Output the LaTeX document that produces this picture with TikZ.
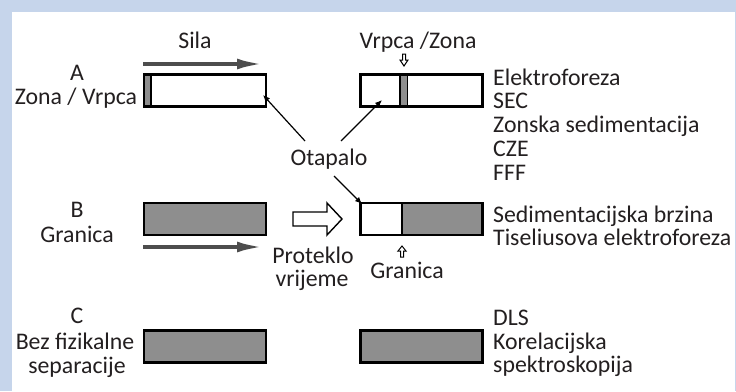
\documentclass[tikz,border=0pt]{standalone}
\usepackage{fontspec}
\setmainfont{Carlito}
\usetikzlibrary{arrows.meta}
\definecolor{frameblue}{HTML}{C6D5EB}
\definecolor{bandgray}{HTML}{8E8E8E}
\definecolor{arrgray}{HTML}{4D4D4D}
\definecolor{txt}{HTML}{231F20}
\begin{document}
\begin{tikzpicture}[x=1pt,y=-1pt,
  tube/.style={draw=black, line width=2.3pt, minimum width=122pt, minimum height=32pt, inner sep=0pt},
  lbl/.style={font=\fontsize{23.8}{23.75}\selectfont, text=txt, inner sep=0pt, anchor=base},
  lst/.style={lbl, anchor=base west},
  force/.style={arrgray, line width=4.5pt, -{Latex[length=30pt,width=10.5pt]}},
  pointer/.style={black, line width=1.2pt, -{Latex[length=7pt,width=6pt]}},
  hollow/.style={draw=black, line width=1.4pt, fill=white, line join=miter},
  smallhollow/.style={draw=black, line width=1pt, fill=white}]
\fill[frameblue] (0,0) rectangle (736,391);
\fill[white] (12,12) rectangle (735,391);
\useasboundingbox (0,0) rectangle (736,391);

% ---------- Row A ----------
\node[lbl] (silaT) at (195,48) {Sila};
\coordinate (silaS) at (143,64);
\coordinate (silaE) at (267,64);
\draw[force] (silaS) -- (silaE);

\node[lbl] (aT) at (77,80) {A};
\node[lbl] (aZ) at (76,104) {Zona / Vrpca};

\node[tube, fill=white] (boxAL) at (205,90.5) {};
\fill[bandgray] (145,75) rectangle (150,106);
\draw[black, line width=1.6pt] (151,74.5) -- (151,106.5);
\node[tube] at (205,90.5) {};

\node[lbl] (vzT) at (418,48) {Vrpca /Zona};
\node[tube, fill=white] (boxAR) at (421.5,90.5) {};
\fill[bandgray] (400.5,75) rectangle (407,106);
\draw[black, line width=1.5pt] (400,74.5) -- (400,106.5) (407.5,74.5) -- (407.5,106.5);
\node[tube] at (421.5,90.5) {};
\draw[smallhollow] (402.5,54) -- (405.5,54) -- (405.5,60) -- (408,60) -- (404,66) -- (400,60) -- (402.5,60) -- cycle;

\node[lst] (l1) at (493,85) {Elektroforeza};
\node[lst] (l2) at (493,108.75) {SEC};
\node[lst] (l3) at (493,132.5) {Zonska sedimentacija};
\node[lst] (l4) at (493,156.25) {CZE};
\node[lst] (l5) at (493,180) {FFF};

% ---------- Otapalo ----------
\node[lbl] (ota) at (329,165) {Otapalo};
\coordinate (o1) at (305,141);
\coordinate (o2) at (341,141);
\coordinate (o3) at (334,176);
\coordinate (t1) at (263,95);
\coordinate (t2) at (382,100);
\coordinate (t3) at (362,204);

% ---------- Row B ----------
\node[lbl] (bT) at (77,217) {B};
\node[lbl] (bG) at (77,242) {Granica};
\node[tube, fill=bandgray] (boxBL) at (205,219) {};
\coordinate (graS) at (143,247);
\coordinate (graE) at (267,247);
\draw[force] (graS) -- (graE);

\draw[hollow] (293,212) -- (327,212) -- (327,203) -- (342,219) -- (327,235) -- (327,226) -- (293,226) -- cycle;
\node[lbl] (pr1) at (313,263) {Proteklo};
\node[lbl] (pr2) at (312,286) {vrijeme};

\node[tube, fill=white] (boxBR) at (421.5,219) {};
\fill[bandgray] (402,203) rectangle (481.5,235);
\draw[black, line width=1.6pt] (402,202.5) -- (402,235.5);
\node[tube] at (421.5,219) {};
\draw[smallhollow] (400.5,257) -- (403.5,257) -- (403.5,251) -- (406,251) -- (402,246) -- (398,251) -- (400.5,251) -- cycle;
\node[lbl] (grR) at (407,278) {Granica};

\node[lst] (m1) at (493,222) {Sedimentacijska brzina};
\node[lst] (m2) at (493,245.5) {Tiseliusova elektroforeza};

% ---------- Row C ----------
\node[lbl] (cT) at (77,323) {C};
\node[lbl] (cB) at (75,349) {Bez fizikalne};
\node[lbl] (cS) at (77,373) {separacije};
\node[tube, fill=bandgray] (boxCL) at (205,346.5) {};
\node[tube, fill=bandgray] (boxCR) at (421.5,346.5) {};
\node[lst] (n1) at (493,325) {DLS};
\node[lst] (n2) at (493,349) {Korelacijska};
\node[lst] (n3) at (493,372.5) {spektroskopija};

% pointers
\draw[pointer] (o1) -- (t1);
\draw[pointer] (o2) -- (t2);
\draw[pointer] (o3) -- (t3);
\end{tikzpicture}
\end{document}
